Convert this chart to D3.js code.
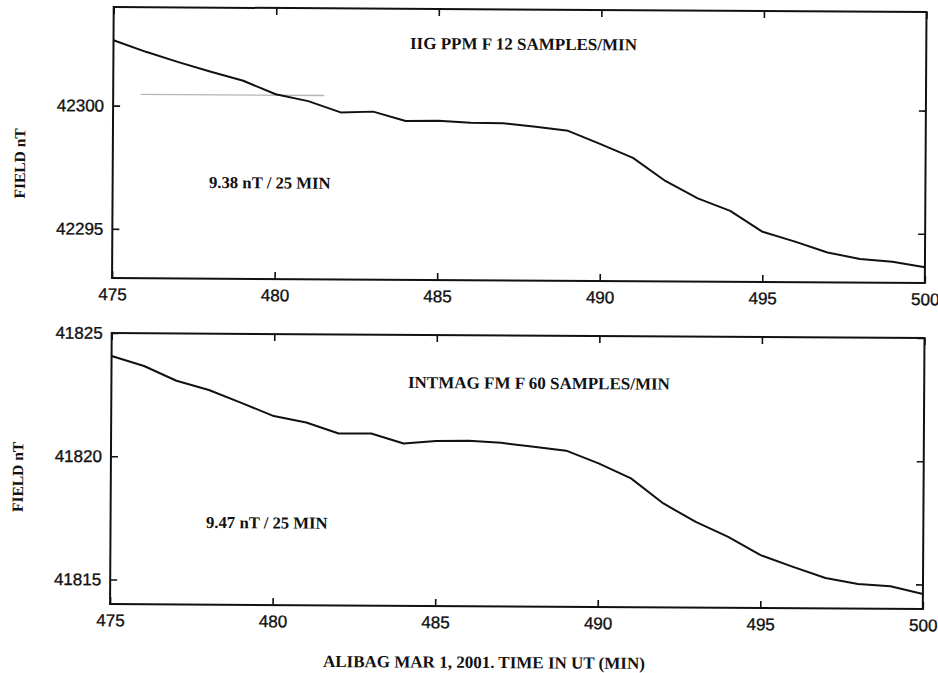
<!DOCTYPE html>
<html>
<head>
<meta charset="utf-8">
<script src="https://cdn.jsdelivr.net/npm/d3@7"></script>
<style>
  html, body { margin: 0; padding: 0; background: #fff; }
  svg { display: block; }
  .tick text { font-family: "Liberation Sans", Arial, sans-serif; font-size: 17px; fill: #111; stroke: #111; stroke-width: 0.35px; }
  .lbl { font-family: "Liberation Serif", "Times New Roman", serif; font-weight: bold; fill: #111; }
</style>
</head>
<body>
<svg id="chart" width="938" height="673"></svg>
<script>
// ---- data ----
const minutes = [475,476,477,478,479,480,481,482,483,484,485,486,487,488,489,490,491,492,493,494,495,496,497,498,499,500];
const ppmField = [42302.65,42302.19,42301.78,42301.40,42301.04,42300.50,42300.23,42299.78,42299.82,42299.45,42299.47,42299.39,42299.38,42299.25,42299.09,42298.56,42298.01,42297.08,42296.38,42295.88,42295.04,42294.65,42294.22,42293.96,42293.86,42293.64];
const intmagField = [41824.07,41823.67,41823.08,41822.71,41822.20,41821.67,41821.42,41820.98,41820.99,41820.59,41820.70,41820.72,41820.64,41820.49,41820.34,41819.83,41819.23,41818.22,41817.48,41816.88,41816.15,41815.68,41815.24,41815.00,41814.92,41814.61];
const xTicks = [475,480,485,490,495,500];
const ppmTicks = [42300,42295];
const intmagTicks = [41825,41820,41815];
const ppmDomain = [42293,42304];
const intmagDomain = [41814,41825];
const xDomain = [475,500];
const ppmTitle = "IIG PPM F 12 SAMPLES/MIN";
const intmagTitle = "INTMAG FM F 60 SAMPLES/MIN";
const ppmRate = "9.38 nT / 25 MIN";
const intmagRate = "9.47 nT / 25 MIN";
const yTitle = "FIELD nT";
const xTitle = "ALIBAG MAR 1, 2001. TIME IN UT (MIN)";
// faint reference trace visible in the upper panel [x0, x1, value]
const ppmRefTrace = [475.85, 481.49, 42300.46];

// ---- layout ----
const svg = d3.select("#chart");
const root = svg.append("g").attr("transform", "rotate(0.352 469 336)");
const L = 111.7, R = 924.5;
const panels = [
  { top: 9.2, bottom: 280.3, vals: ppmField, ticks: ppmTicks, dom: ppmDomain, title: ppmTitle, rate: ppmRate,
    titlePos: [408.2, 49.4], ratePos: [208.1, 189.6], yTitlePos: [24, 166.2], ref: ppmRefTrace },
  { top: 335.2, bottom: 606.3, vals: intmagField, ticks: intmagTicks, dom: intmagDomain, title: intmagTitle, rate: intmagRate,
    titlePos: [408.3, 388.4], ratePos: [207.2, 529.6], yTitlePos: [23.9, 479.7], ref: null }
];

const x = d3.scaleLinear().domain(xDomain).range([L, R]);
const tk = 7;

panels.forEach(p => {
  const y = d3.scaleLinear().domain(p.dom).range([p.bottom, p.top]);
  const g = root.append("g");

  if (p.ref) {
    g.append("line")
      .attr("x1", x(p.ref[0])).attr("x2", x(p.ref[1]))
      .attr("y1", y(p.ref[2])).attr("y2", y(p.ref[2]))
      .attr("stroke", "#b5b5b5").attr("stroke-width", 1.4);
  }

  const ax = (sel) => sel.call(s => s.select(".domain").remove())
                         .call(s => s.selectAll(".tick line").attr("stroke", "#111").attr("stroke-width", 1.6));
  g.append("g").attr("transform", `translate(0,${p.bottom})`)
    .call(d3.axisBottom(x).tickValues(xTicks).tickSize(-tk).tickPadding(10).tickFormat(d3.format("d"))).call(ax);
  g.append("g").attr("transform", `translate(0,${p.top})`)
    .call(d3.axisTop(x).tickValues(xTicks).tickSize(-tk).tickFormat("")).call(ax);
  g.append("g").attr("transform", `translate(${L},0)`)
    .call(d3.axisLeft(y).tickValues(p.ticks).tickSize(-tk).tickPadding(9).tickFormat(d3.format("d"))).call(ax);
  g.append("g").attr("transform", `translate(${R},0)`)
    .call(d3.axisRight(y).tickValues(p.ticks).tickSize(-tk).tickFormat("")).call(ax);

  g.append("rect").attr("x", L).attr("y", p.top).attr("width", R - L).attr("height", p.bottom - p.top)
    .attr("fill", "none").attr("stroke", "#111").attr("stroke-width", 2);

  const line = d3.line().x((d, i) => x(minutes[i])).y(d => y(d));
  g.append("path").datum(p.vals).attr("d", line)
    .attr("fill", "none").attr("stroke", "#111").attr("stroke-width", 2).attr("stroke-linejoin", "round");

  g.append("text").attr("class", "lbl").attr("x", p.titlePos[0]).attr("y", p.titlePos[1])
    .attr("font-size", 17).text(p.title);
  g.append("text").attr("class", "lbl").attr("x", p.ratePos[0]).attr("y", p.ratePos[1])
    .attr("font-size", 16.7).text(p.rate);
  g.append("text").attr("class", "lbl")
    .attr("transform", `translate(${p.yTitlePos[0]},${p.yTitlePos[1]}) rotate(-90)`)
    .attr("text-anchor", "middle").attr("font-size", 15.5).text(yTitle);
});

root.append("text").attr("class", "lbl").attr("x", 325).attr("y", 667.9)
  .attr("font-size", 17).text(xTitle);
</script>
</body>
</html>
